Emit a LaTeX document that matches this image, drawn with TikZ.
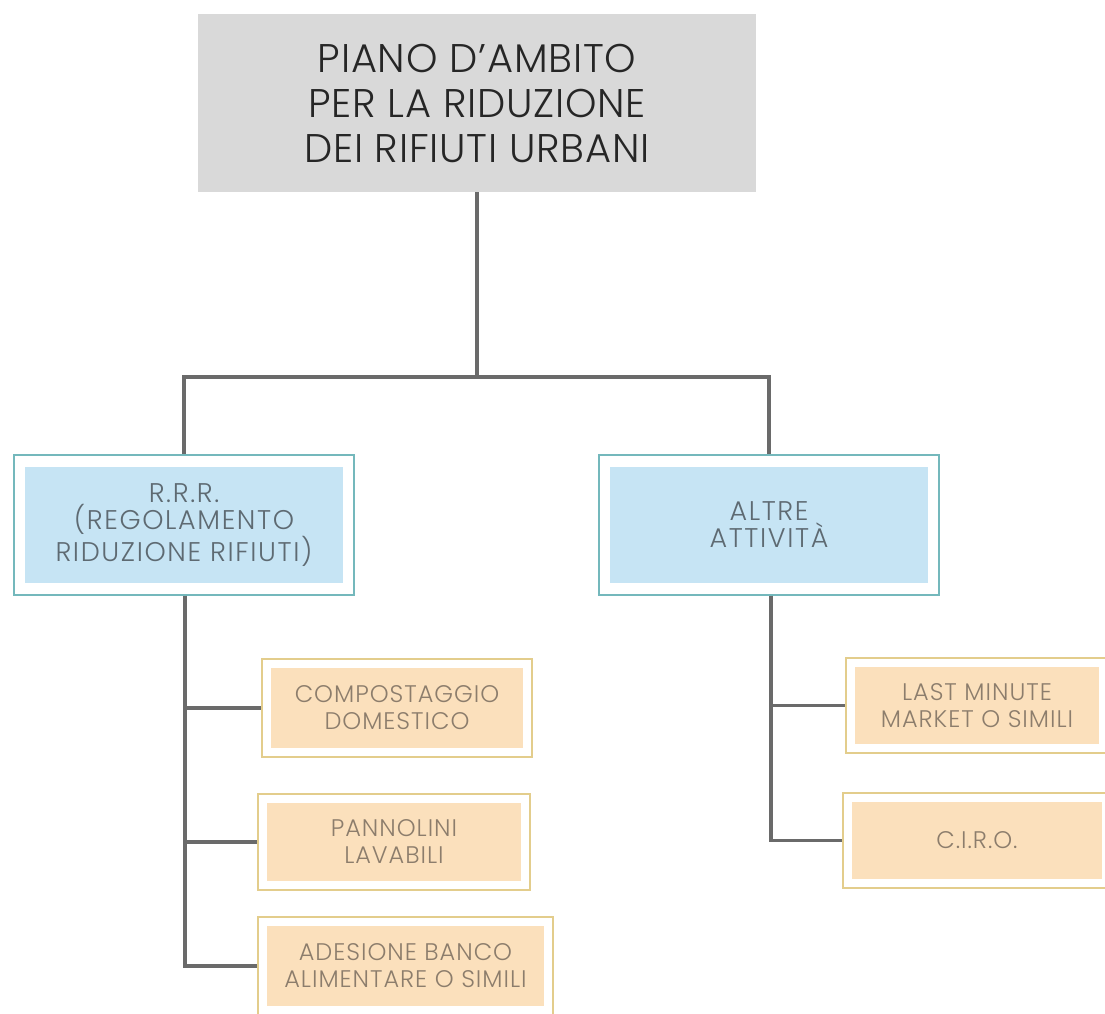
\documentclass[tikz,border=0pt]{standalone}
\usepackage{fontspec}
\setmainfont{Poppins}[UprightFont=* Light]
\newfontfamily\bluefont{Poppins}[UprightFont=* Light, LetterSpace=6]
\newfontfamily\orfont{Poppins}[UprightFont=* Light, LetterSpace=4]
\newfontfamily\topfont{Poppins}[UprightFont=* Light, LetterSpace=2]
\definecolor{topfill}{HTML}{D9D9D9}
\definecolor{bluefill}{HTML}{C6E4F4}
\definecolor{blueline}{HTML}{74B8BC}
\definecolor{orfill}{HTML}{FBE0BC}
\definecolor{orline}{HTML}{E3CD8C}
\definecolor{conn}{HTML}{6A6A6A}
\definecolor{bluetext}{HTML}{5E6A72}
\definecolor{ortext}{HTML}{8C7D6C}
\begin{document}
\begin{tikzpicture}[x=1pt,y=-1pt,
  topbox/.style={rectangle, fill=topfill, minimum width=558pt, minimum height=178pt,
    align=center, font=\topfont\fontsize{40}{45}\selectfont, text=black!85, inner sep=0pt},
  bluebox/.style={rectangle, draw=blueline, line width=1.6pt, fill=white, align=center, inner sep=0pt,
    minimum width=340pt, minimum height=140pt, text=bluetext, font=\bluefont\fontsize{27}{27}\selectfont,
    path picture={\fill[bluefill] ([shift={(11pt,-12pt)}]path picture bounding box.north west) rectangle ([shift={(-11pt,12pt)}]path picture bounding box.south east);}},
  orbox/.style={rectangle, draw=orline, line width=1.6pt, fill=white, align=center, inner sep=0pt,
    text=ortext, font=\orfont\fontsize{24}{27}\selectfont,
    path picture={\fill[orfill] ([shift={(9pt,-9pt)}]path picture bounding box.north west) rectangle ([shift={(-9pt,9pt)}]path picture bounding box.south east);}},
  link/.style={draw=conn, line width=3.2pt}
]
\useasboundingbox (0,0) rectangle (1105,1014);
\fill[white] (0,0) rectangle (1105,1014);
\begin{scope}
\clip (0,0) rectangle (1105,1014);
\node[topbox] (top) at (477,103) {PIANO D’AMBITO\\PER LA RIDUZIONE\\DEI RIFIUTI URBANI};
\node[bluebox] (rrr) at (184,525) {R.R.R.\\(REGOLAMENTO\\RIDUZIONE RIFIUTI)};
\node[bluebox] (alt) at (769,525) {ALTRE\\ATTIVITÀ};
\node[orbox, minimum width=270pt, minimum height=98pt] (comp) at (397,708) {COMPOSTAGGIO\\DOMESTICO};
\node[orbox, minimum width=272pt, minimum height=96pt] (pann) at (394,842) {PANNOLINI\\LAVABILI};
\node[orbox, minimum width=295pt, minimum height=98pt] (ades) at (405.5,966) {ADESIONE BANCO\\ALIMENTARE O SIMILI};
\node[orbox, minimum width=262pt, minimum height=95pt] (last) at (977,705.5) {LAST MINUTE\\MARKET O SIMILI};
\node[orbox, minimum width=268pt, minimum height=95pt] (ciro) at (977,840.5) {C.I.R.O.};
\coordinate (j) at (477,377);
\draw[link] (top.south) -- (j) -| (rrr.north);
\draw[link] (j) -| (alt.north);
\draw[link] ([xshift=1pt]rrr.south) |- (comp.west);
\draw[link] ([xshift=1pt]rrr.south) |- (pann.west);
\draw[link] ([xshift=1pt]rrr.south) |- (ades.west);
\draw[link] ([xshift=2pt]alt.south) |- (last.west);
\draw[link] ([xshift=2pt]alt.south) |- (ciro.west);
\end{scope}
\end{tikzpicture}
\end{document}
